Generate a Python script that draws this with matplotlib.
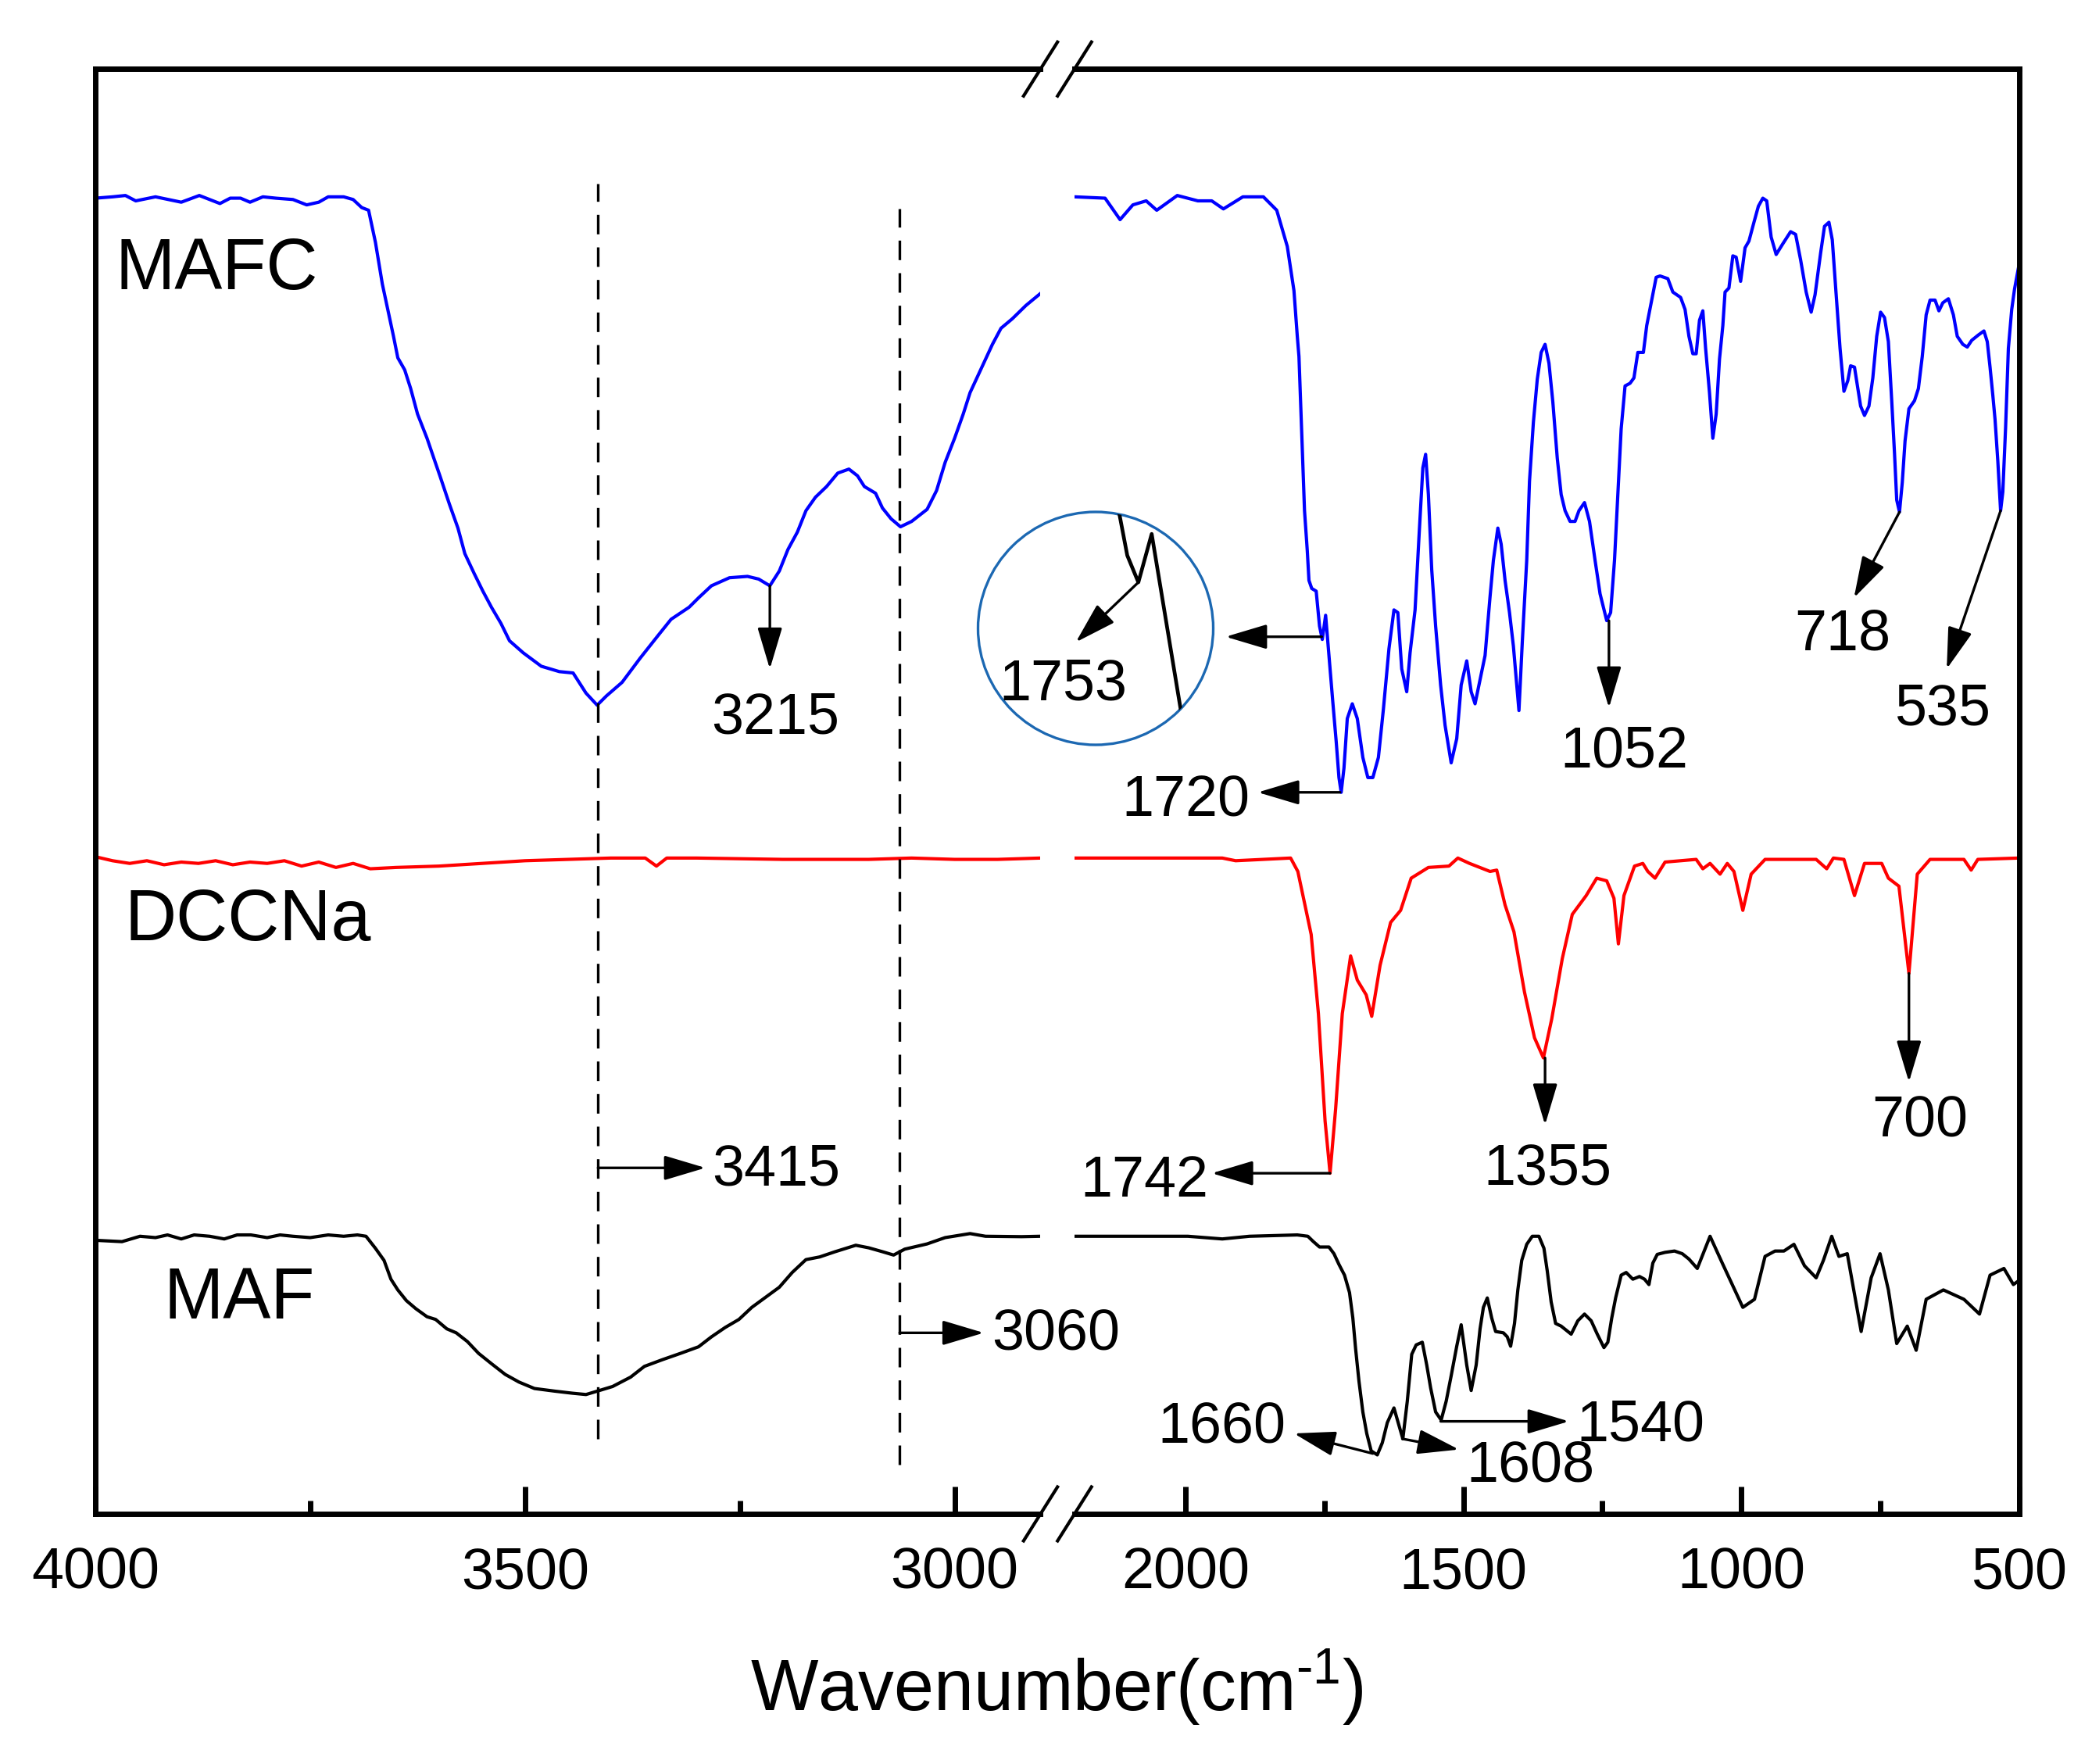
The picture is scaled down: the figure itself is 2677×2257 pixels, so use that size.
import numpy as np
import matplotlib
matplotlib.use("Agg")
import matplotlib.pyplot as plt
from matplotlib.patches import Circle, ArrowStyle

plt.rcParams['font.family'] = ['Liberation Sans', 'DejaVu Sans']
plt.rcParams['mathtext.fontset'] = 'custom'
plt.rcParams['mathtext.rm'] = 'Liberation Sans'
plt.rcParams['mathtext.it'] = 'Liberation Sans:italic'

# ---- data (wavenumber cm-1, transmittance a.u. with offsets) ----
mafc_l_wn = [4000, 3980, 3965, 3953, 3930, 3915, 3900, 3879, 3867, 3855, 3843, 3831, 3820, 3805,
             3790, 3770, 3754, 3740, 3729, 3711, 3700, 3690, 3682, 3674, 3666, 3659, 3653, 3648,
             3640, 3633, 3625, 3614, 3606, 3599, 3588, 3578, 3570, 3559, 3549, 3539, 3528, 3518,
             3502, 3481, 3460, 3444, 3429, 3416, 3405, 3387, 3366, 3345, 3330, 3309, 3298, 3283,
             3262, 3241, 3228, 3215, 3204, 3194, 3183, 3173, 3162, 3149, 3136, 3123, 3113, 3105,
             3092, 3084, 3074, 3063, 3050, 3032, 3021, 3011, 3000, 2990, 2982, 2969, 2956, 2946,
             2933, 2917, 2900]
mafc_l_t = [98.1, 98.2, 98.3, 97.9, 98.2, 98.0, 97.8, 98.3, 98.0, 97.7, 98.1, 98.1, 97.8, 98.2,
            98.1, 98.0, 97.6, 97.8, 98.2, 98.2, 98.0, 97.4, 97.2, 94.8, 91.7, 89.6, 87.8, 86.2,
            85.3, 83.9, 82.0, 80.2, 78.7, 77.4, 75.3, 73.5, 71.6, 70.1, 68.8, 67.6, 66.4, 65.1,
            64.2, 63.2, 62.8, 62.7, 61.2, 60.3, 61.0, 62.0, 63.8, 65.5, 66.7, 67.6, 68.3, 69.2,
            69.8, 69.9, 69.7, 69.2, 70.3, 71.9, 73.2, 74.8, 75.8, 76.6, 77.6, 77.9, 77.4, 76.6,
            76.1, 75.0, 74.2, 73.6, 74.0, 74.9, 76.3, 78.4, 80.2, 82.0, 83.6, 85.4, 87.2, 88.4,
            89.1, 90.1, 91.0]

mafc_r_wn = [2200, 2145, 2118, 2095, 2071, 2052, 2015, 1978, 1953, 1932, 1897, 1860, 1836, 1817,
             1805, 1799, 1796, 1793, 1789, 1786, 1781, 1778, 1773, 1765, 1759, 1754, 1748, 1735,
             1729, 1724, 1720, 1715, 1709, 1700, 1691, 1681, 1672, 1663, 1653, 1644, 1634, 1625,
             1618, 1611, 1602, 1596, 1587, 1580, 1573, 1568, 1563, 1557, 1550, 1541, 1533, 1522,
             1512, 1504, 1494, 1486, 1479, 1471, 1461, 1452, 1446, 1438, 1432, 1425, 1417, 1410,
             1400, 1394, 1386, 1381, 1374, 1367, 1360, 1353, 1346, 1339, 1331, 1324, 1317, 1308,
             1299, 1292, 1282, 1273, 1263, 1254, 1242, 1235, 1228, 1222, 1216, 1209, 1200, 1193,
             1186, 1176, 1170, 1160, 1153, 1146, 1132, 1123, 1109, 1101, 1094, 1087, 1081, 1075,
             1069, 1064, 1057, 1051, 1045, 1039, 1033, 1029, 1022, 1015, 1009, 1001, 993, 986, 977,
             969, 961, 954, 946, 937, 925, 911, 902, 893, 883, 874, 867, 857, 850, 842, 836, 829,
             822, 815, 808, 803, 796, 790, 785, 778, 770, 763, 756, 749, 742, 735, 729, 724, 720,
             715, 710, 705, 698, 688, 681, 674, 667, 660, 651, 644, 637, 627, 618, 611, 601, 593,
             585, 573, 563, 557, 552, 547, 543, 538, 533, 529, 524, 519, 513, 508, 500]
mafc_r_t = [98.2, 98.1, 96.5, 97.6, 97.9, 97.2, 98.3, 97.9, 97.9, 97.3, 98.2, 98.2, 97.2, 94.5,
            91.2, 87.8, 86.3, 82.9, 78.5, 74.8, 71.8, 69.6, 69.0, 68.8, 66.2, 65.2, 67.0, 60.5,
            57.6, 54.9, 53.8, 55.6, 59.3, 60.4, 59.3, 56.4, 54.9, 54.9, 56.4, 60.0, 64.5, 67.4,
            67.2, 63.0, 61.3, 64.2, 67.4, 72.8, 78.0, 79.0, 76.0, 70.4, 66.2, 61.8, 58.8, 56.0,
            57.8, 61.8, 63.6, 61.3, 60.4, 62.0, 64.0, 68.4, 71.1, 73.5, 72.3, 69.6, 67.2, 64.7,
            59.9, 65.0, 71.1, 77.0, 81.4, 84.6, 86.6, 87.2, 85.8, 82.9, 78.7, 76.0, 74.8, 74.0,
            74.0, 74.8, 75.4, 74.0, 71.1, 68.6, 66.6, 67.2, 71.1, 76.0, 80.9, 84.1, 84.3, 84.7,
            86.6, 86.6, 88.6, 90.7, 92.2, 92.3, 92.1, 91.1, 90.7, 89.8, 87.8, 86.5, 86.5, 89.0,
            89.7, 86.9, 83.6, 80.2, 82.0, 86.1, 88.6, 91.1, 91.4, 93.8, 93.7, 91.9, 94.4, 94.9, 96.3,
            97.5, 98.1, 97.9, 95.2, 93.9, 94.7, 95.6, 95.4, 93.5, 91.1, 89.6, 90.9, 94.0, 96.0, 96.3, 95.0, 90.9,
            86.9, 83.7, 84.5, 85.6, 85.5, 83.9, 82.6, 81.9, 82.6, 84.7, 87.8, 89.6, 89.2, 87.4, 83.0, 79.1, 75.6,
            74.7, 76.9, 80.0, 82.4, 83.0, 83.9, 86.3, 89.4, 90.5, 90.5, 89.7, 90.3, 90.6, 89.4, 87.8, 87.2, 87.0,
            87.5, 87.9, 88.2, 87.4, 85.5, 83.4, 81.6, 78.5, 74.8, 76.2, 81.0, 86.9, 89.8, 91.3, 93.1]

dccna_l_wn = [4000, 3980, 3960, 3940, 3920, 3900, 3880, 3860, 3840, 3820, 3800, 3780, 3760, 3740,
              3720, 3700, 3680, 3650, 3600, 3550, 3500, 3450, 3400, 3360, 3347, 3335, 3300, 3200,
              3100, 3050, 3000, 2950, 2900]
dccna_l_t = [49.0, 48.7, 48.5, 48.7, 48.4, 48.6, 48.5, 48.7, 48.4, 48.6, 48.5, 48.7, 48.3, 48.6,
             48.2, 48.5, 48.1, 48.2, 48.3, 48.5, 48.7, 48.8, 48.9, 48.9, 48.3, 48.9, 48.9, 48.8,
             48.8, 48.9, 48.8, 48.8, 48.9]

dccna_r_wn = [2200, 1934, 1910, 1811, 1798, 1774, 1761, 1749, 1740, 1730, 1718, 1703, 1691, 1675,
              1665, 1650, 1631, 1613, 1594, 1563, 1526, 1510, 1489, 1452, 1440, 1425, 1409, 1390,
              1372, 1356, 1341, 1322, 1304, 1279, 1260, 1242, 1229, 1221, 1211, 1192, 1177, 1168,
              1155, 1137, 1081, 1069, 1056, 1038, 1025, 1013, 997, 982, 957, 865, 846, 834, 815,
              796, 778, 747, 735, 716, 698, 683, 660, 599, 586, 574, 500]
dccna_r_t = [48.9, 48.9, 48.7, 48.9, 47.9, 43.2, 37.3, 29.3, 25.4, 30.2, 37.3, 41.6, 39.8, 38.7,
             37.1, 40.9, 44.1, 45.0, 47.4, 48.2, 48.3, 48.9, 48.5, 47.9, 48.0, 45.4, 43.4, 38.9,
             35.5, 34.0, 36.9, 41.4, 44.7, 46.1, 47.4, 47.2, 45.9, 42.5, 46.1, 48.3, 48.5, 47.9,
             47.4, 48.6, 48.8, 48.1, 48.5, 47.7, 48.5, 47.9, 45.0, 47.7, 48.8, 48.8, 48.1, 48.9, 48.8,
             46.1, 48.5, 48.5, 47.4, 46.8, 40.3, 47.7, 48.8, 48.8, 48.0, 48.8, 48.9]

maf_l_wn = [4000, 3969, 3948, 3930, 3916, 3900, 3885, 3867, 3850, 3835, 3819, 3800, 3785, 3770,
            3750, 3729, 3711, 3695, 3685, 3674, 3664, 3656, 3648, 3638, 3627, 3614, 3604, 3591,
            3580, 3567, 3554, 3539, 3523, 3507, 3489, 3465, 3445, 3429, 3416, 3398, 3377, 3361,
            3340, 3319, 3298, 3283, 3267, 3251, 3236, 3220, 3204, 3189, 3173, 3157, 3139, 3115,
            3100, 3084, 3071, 3058, 3032, 3011, 2982, 2964, 2922, 2900]
maf_l_t = [20.4, 20.3, 20.7, 20.6, 20.8, 20.5, 20.8, 20.7, 20.5, 20.8, 20.8, 20.6, 20.8, 20.7,
           20.6, 20.8, 20.7, 20.8, 20.7, 19.8, 18.9, 17.5, 16.7, 15.9, 15.3, 14.7, 14.5, 13.8,
           13.5, 12.85, 11.97, 11.2, 10.4, 9.83, 9.35, 9.15, 9.0, 8.9, 9.15, 9.5, 10.2, 11.0,
           11.5, 11.97, 12.46, 13.2, 13.9, 14.5, 15.4, 16.15, 16.9, 18.0, 18.96, 19.16, 19.55, 20.03,
           19.84, 19.55, 19.3, 19.74, 20.13, 20.6, 20.9, 20.7, 20.67, 20.7]

maf_r_wn = [2200, 1996, 1934, 1885, 1799, 1780, 1770, 1759, 1742, 1733, 1724, 1714, 1705, 1699,
            1694, 1688, 1681, 1674, 1666, 1655, 1646, 1637, 1625, 1616, 1609, 1601, 1593, 1585,
            1574, 1566, 1559, 1550, 1540, 1531, 1522, 1512, 1504, 1494, 1486, 1477, 1470, 1464,
            1457, 1449, 1442, 1428, 1421, 1415, 1408, 1402, 1395, 1386, 1376, 1364, 1355, 1349,
            1342, 1334, 1324, 1315, 1306, 1294, 1282, 1270, 1259, 1247, 1240, 1233, 1226, 1216,
            1207, 1195, 1183, 1174, 1166, 1159, 1151, 1137, 1120, 1106, 1094, 1079, 1056, 1034,
            997, 976, 957, 939, 923, 905, 886, 865, 852, 837, 824, 809, 784, 766, 750, 735, 720,
            701, 685, 667, 636, 599, 571, 552, 527, 510, 500]
maf_r_t = [20.7, 20.7, 20.5, 20.7, 20.8, 20.7, 20.3, 19.9, 19.9, 19.4, 18.6, 17.8, 16.5, 14.6,
           12.3, 9.9, 7.6, 6.0, 4.7, 4.4, 5.3, 6.8, 7.9, 6.6, 5.6, 8.4, 11.9, 12.6,
           12.8, 11.1, 9.4, 7.6, 7.0, 8.4, 10.3, 12.5, 14.1, 11.1, 9.2, 11.1, 13.8, 15.4,
           16.1, 14.6, 13.6, 13.5, 13.2, 12.5, 14.2, 16.7, 18.9, 20.1, 20.7, 20.7, 19.8, 18.1,
           15.8, 14.2, 14.0, 13.7, 13.4, 14.4, 14.9, 14.4, 13.4, 12.4, 12.8, 14.6, 16.1, 17.8,
           18.0, 17.5, 17.7, 17.5, 17.1, 18.7, 19.35, 19.5, 19.6, 19.4, 19.0, 18.3, 20.7, 18.7,
           15.4, 16.0, 19.2, 19.6, 19.6, 20.1, 18.5, 17.6, 18.9, 20.7, 19.2, 19.4, 13.6, 17.6, 19.4, 16.7, 12.7,
           14.0, 12.2, 16.0, 16.7, 16.0, 14.9, 17.8, 18.3, 17.1, 17.4]

ref_wn = [3415, 3064]
ref_top = [99.2, 97.3]
ref_bottom = [5.6, 3.7]

W, H = 2677, 2257
fig = plt.figure(figsize=(W / 100, H / 100), dpi=100)
ax1 = fig.add_axes([122 / W, 1 - 1937 / H, (1331.5 - 122) / W, 1848.7 / H])
ax2 = fig.add_axes([1375 / W, 1 - 1937 / H, (2583.5 - 1375) / W, 1848.7 / H])

for ax in (ax1, ax2):
    ax.set_facecolor('none')
    ax.set_ylim(0, 107.73)
    ax.set_yticks([])
    for s in ax.spines.values():
        s.set_linewidth(5)
    ax.tick_params(axis='x', which='major', direction='in', length=25, width=5,
                   labelsize=53, pad=30, top=False)
    ax.tick_params(axis='x', which='minor', direction='in', length=12, width=5, top=False)

ax1.spines['right'].set_visible(False)
ax2.spines['left'].set_visible(False)
ax1.set_xlim(4000, 2900)
ax2.set_xlim(2200, 500)
ax1.set_xticks([4000, 3500, 3000])
ax1.set_xticks([3750, 3250], minor=True)
ax2.set_xticks([2000, 1500, 1000, 500])
ax2.set_xticks([1750, 1250, 750], minor=True)

lw = 3.0
ax1.plot(mafc_l_wn, mafc_l_t, color='#0000ff', lw=lw)
ax2.plot(mafc_r_wn, mafc_r_t, color='#0000ff', lw=lw)
ax1.plot(dccna_l_wn, dccna_l_t, color='#ff0000', lw=lw)
ax2.plot(dccna_r_wn, dccna_r_t, color='#ff0000', lw=lw)
ax1.plot(maf_l_wn, maf_l_t, color='black', lw=lw)
ax2.plot(maf_r_wn, maf_r_t, color='black', lw=lw)

ax1.vlines(ref_wn, ref_bottom, ref_top, colors='black', lw=2.4, linestyles=(0, (7.5, 5)))

# break marks
d1 = 21.7 / 1209.5
d2 = 21.7 / 1208.5
h = 34.5 / 1848.7
for y in (0, 1):
    ax1.plot([1 - d1, 1 + d1], [y - h, y + h], transform=ax1.transAxes, clip_on=False, color='k', lw=3)
    ax2.plot([-d2, d2], [y - h, y + h], transform=ax2.transAxes, clip_on=False, color='k', lw=3)

head = ArrowStyle('-|>', head_length=1.64, head_width=0.49)


def arrow(ax, tail, tip):
    ax.annotate('', xy=tip, xytext=tail, annotation_clip=False,
                arrowprops=dict(arrowstyle=head, mutation_scale=20, lw=2.4, color='k',
                                shrinkA=0, shrinkB=0))


def label(ax, x, y, s, ha='center'):
    ax.text(x, y, s, fontsize=53, ha=ha, va='baseline')


arrow(ax1, (3215, 69.2), (3215, 63.0))
label(ax1, 3209, 58.2, '3215')
arrow(ax1, (3415, 25.8), (3290, 25.8))
label(ax1, 3282, 24.5, '3415', 'left')
arrow(ax1, (3064, 13.5), (2966, 13.5))
label(ax1, 2957, 12.2, '3060', 'left')

arrow(ax2, (1722, 53.8), (1870, 53.8))
label(ax2, 1885, 52.0, '1720', 'right')
arrow(ax2, (1755, 65.4), (1928, 65.4))
arrow(ax2, (1238, 66.6), (1238, 60.1))
label(ax2, 1211, 55.7, '1052')
arrow(ax2, (715, 74.7), (797, 68.3))
label(ax2, 818, 64.4, '718')
arrow(ax2, (533, 74.8), (630, 63.0))
label(ax2, 638, 58.8, '535')
arrow(ax2, (1740, 25.4), (1953, 25.4))
label(ax2, 1959, 23.66, '1742', 'right')
arrow(ax2, (1353, 34.0), (1353, 29.0))
label(ax2, 1349, 24.55, '1355')
arrow(ax2, (698, 40.3), (698, 32.2))
label(ax2, 679, 28.1, '700')
arrow(ax2, (1663, 4.5), (1805, 6.0))
label(ax2, 1819, 5.26, '1660', 'right')
arrow(ax2, (1610, 5.6), (1508, 4.8))
label(ax2, 1495, 2.44, '1608', 'left')
arrow(ax2, (1541, 6.9), (1310, 6.9))
label(ax2, 1297, 5.46, '1540', 'left')

ax1.text(3977, 91.3, 'MAFC', fontsize=66, va='baseline')
ax1.text(3966, 42.8, 'DCCNa', fontsize=66, va='baseline')
ax1.text(3920, 14.57, 'MAF', fontsize=66, va='baseline')

# magnified view of the 1753 shoulder
axin = fig.add_axes([1251.5 / W, 1 - 953 / H, 301 / W, 298 / H])
axin.set_facecolor('none')
axin.axis('off')
axin.set_xlim(1826.25, 1720.27)
axin.set_ylim(59.15, 67.82)
circ = Circle((0.5, 0.5), 0.5, transform=axin.transAxes, fill=False, ec='#1c68b2', lw=2.4)
circ.set_clip_on(False)
axin.add_patch(circ)
zl, = axin.plot(mafc_r_wn, mafc_r_t, color='k', lw=3.4)
zl.set_clip_path(circ)
arrow(axin, (1754, 65.2), (1782.2, 62.97))
label(axin, 1788.05, 60.81, '1753')

fig.text(1352 / W, 1 - 2189 / H, 'Wavenumber(cm$^{\\text{-}1}$)', fontsize=66, ha='center', va='baseline')

fig.savefig('out.png', dpi=100)
